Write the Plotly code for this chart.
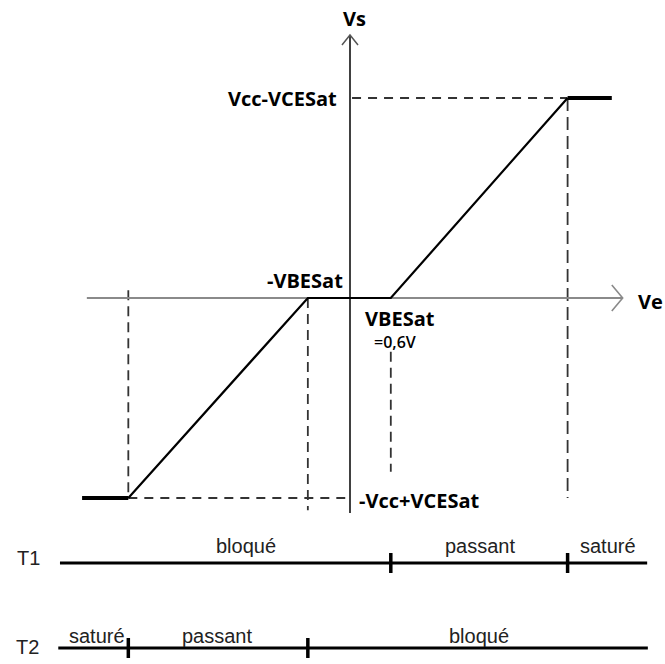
import plotly.graph_objects as go

# ---- data ----
VBESAT = 0.6          # Ve threshold (V), positive side
VBESAT_NEG = -0.62    # Ve threshold as drawn on the negative side
VE_SAT = 3.2          # Ve where the output saturates (positive side)
VE_SAT_NEG = -3.26    # Ve where the output saturates (negative side, as drawn)
VS_SAT = 2.6          # Vcc - VCESat (output saturation level)
ve_min, ve_max = -3.94, 3.85          # extent of the drawn characteristic
ve_curve = [VE_SAT_NEG, VBESAT_NEG, VBESAT, VE_SAT]
vs_curve = [-VS_SAT, 0.0, 0.0, VS_SAT]

t1_bounds = [VBESAT, VE_SAT]
t1_states = ["bloqué", "passant", "saturé"]
t2_bounds = [VE_SAT_NEG, VBESAT_NEG]
t2_states = ["saturé", "passant", "bloqué"]

# ---- geometry of the drawing (data units) ----
XR = [-350 / 68.0, 315 / 68.0]
YR = [-366 / 76.92, 298 / 76.92]
T1_Y = -3.445
T2_Y = -4.55
TICK = 0.13

fig = go.Figure()

def line(x, y, color="#000", width=2, dash="solid"):
    fig.add_trace(go.Scatter(x=x, y=y, mode="lines", hoverinfo="skip",
                             line=dict(color=color, width=width, dash=dash),
                             showlegend=False))

# dashed guide lines
DC = "#333333"
line([0.03, VE_SAT], [VS_SAT, VS_SAT], DC, 2.2, "9px,7px")
line([VE_SAT_NEG, -0.07], [-VS_SAT, -VS_SAT], DC, 2.2, "9px,7px")
line([VE_SAT, VE_SAT], [VS_SAT, -VS_SAT], DC, 1.8, "13px,6px")
line([VE_SAT_NEG, VE_SAT_NEG], [0.10, -VS_SAT], DC, 1.8, "10px,6px")
line([VBESAT_NEG, VBESAT_NEG], [0, -2.76], DC, 1.8, "10px,6px")
line([VBESAT, VBESAT], [-0.70, -2.26], DC, 1.8, "10px,6px")

# axes
line([-3.87, 4.01], [0, 0], "#8a8a8a", 2)
line([3.85, 4.01, 3.85], [0.17, 0, -0.17], "#8a8a8a", 1.6)
line([0, 0], [-2.795, 3.42], "#111", 1.6)
line([-0.118, 0, 0.118], [3.29, 3.42, 3.29], "#555", 1.5)

# characteristic
line(ve_curve, vs_curve, "#000", 2.2)
line([ve_min, VE_SAT_NEG], [-VS_SAT, -VS_SAT], "#000", 4)
line([VE_SAT, ve_max], [VS_SAT, VS_SAT], "#000", 4)

# transistor state bars
line([-4.265, 4.37], [T1_Y, T1_Y], "#000", 3)
line([-4.29, 4.38], [T2_Y, T2_Y], "#000", 3)
for b in t1_bounds:
    line([b, b], [T1_Y - TICK, T1_Y + TICK], "#000", 3.5)
for b in t2_bounds:
    line([b, b], [T2_Y - TICK, T2_Y + TICK], "#000", 3.5)

BF = dict(family="Open Sans, Liberation Sans", size=20, color="#000", weight="bold")
RF = dict(family="Open Sans, Liberation Sans", size=16, color="#000", weight=600)
SF = dict(family="Liberation Sans Narrow, Liberation Sans, Arial", size=20, color="#222")

def txt(x, y, s, font, xa="center", ya="middle"):
    fig.add_annotation(x=x, y=y, text=s, showarrow=False, font=font,
                       xanchor=xa, yanchor=ya)

txt(0.07, 3.64, "Vs", BF)
txt(4.21, -0.05, "Ve", BF, xa="left")
txt(-0.16, VS_SAT, "Vcc-VCESat", BF, xa="right")
txt(-0.66, 0.23, "-VBESat", BF)
txt(0.19, -0.26, "VBESat", BF, xa="left")
txt(0.32, -0.57, "=0,6V", RF, xa="left")
txt(0.10, -VS_SAT - 0.03, "-Vcc+VCESat", BF, xa="left")

txt(-4.735, T1_Y + 0.07, "T1", SF)
txt(-4.75, T2_Y + 0.01, "T2", SF)
t1_x = [-1.53, 1.91, 3.79]
t2_x = [-3.72, -1.96, 1.90]
for x, s in zip(t1_x, t1_states):
    txt(x, T1_Y + 0.22, s, SF)
for x, s in zip(t2_x, t2_states):
    txt(x, T2_Y + 0.16, s, SF)

fig.update_layout(
    width=665, height=664, margin=dict(l=0, r=0, t=0, b=0),
    paper_bgcolor="white", plot_bgcolor="white",
    xaxis=dict(range=XR, visible=False, fixedrange=True),
    yaxis=dict(range=YR, visible=False, fixedrange=True),
    hovermode=False,
)
fig.write_html("out.html", config={"displayModeBar": False},
               post_script="document.body.style.margin='0';document.body.style.overflow='hidden';")
